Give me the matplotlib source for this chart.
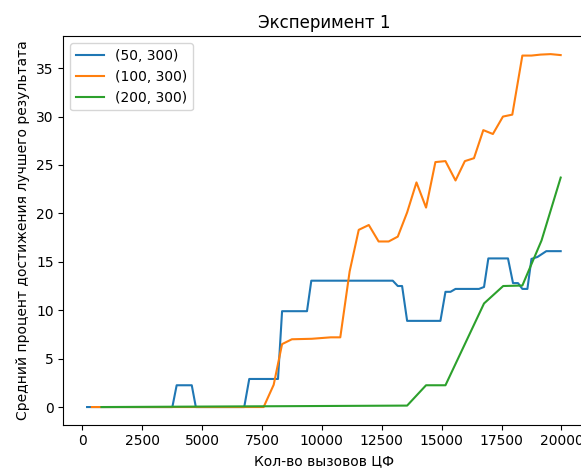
import matplotlib
matplotlib.use("Agg")
import matplotlib.pyplot as plt

# (50, 300)
x_50 = [200, 3760, 3940, 4570, 4740, 6760, 6970, 8170, 8340, 9380, 9560, 12960,
        13170, 13350, 13560, 14950, 15160, 15370, 15580, 16560, 16770, 16950,
        17770, 17980, 18190, 18370, 18580, 18750, 19000, 19370, 19970]
y_50 = [0, 0, 2.25, 2.25, 0, 0, 2.9, 2.9, 9.9, 9.9, 13.05, 13.05,
        12.5, 12.5, 8.9, 8.9, 11.9, 11.9, 12.2, 12.2, 12.4, 15.35,
        15.35, 12.8, 12.8, 12.2, 12.2, 15.3, 15.5, 16.1, 16.1]

# (100, 300)
x_100 = [400, 7570, 7990, 8340, 8750, 9580, 10370, 10770, 11160, 11540, 11960,
         12370, 12790, 13170, 13560, 13950, 14350, 14740, 15160, 15580, 15970,
         16350, 16740, 17140, 17560, 17950, 18370, 18750, 19130, 19550, 19970]
y_100 = [0, 0, 2.3, 6.5, 7.0, 7.05, 7.2, 7.2, 14.0, 18.3, 18.8,
         17.1, 17.1, 17.6, 20.1, 23.2, 20.6, 25.3, 25.4, 23.4, 25.4,
         25.7, 28.6, 28.2, 30.0, 30.2, 36.3, 36.3, 36.4, 36.45, 36.35]

# (200, 300)
x_200 = [800, 13560, 14350, 15160, 16770, 17570, 18370, 19170, 19970]
y_200 = [0, 0.15, 2.25, 2.25, 10.7, 12.5, 12.55, 17.2, 23.7]

fig = plt.figure(figsize=(5.81, 4.70), dpi=100)
ax = fig.add_axes([0.1091, 0.0964, 0.8967, 0.826])

ax.plot(x_50, y_50, label="(50, 300)")
ax.plot(x_100, y_100, label="(100, 300)")
ax.plot(x_200, y_200, label="(200, 300)")

ax.set_title("Эксперимент 1")
ax.set_xlabel("Кол-во вызовов ЦФ")
ax.set_ylabel("Средний процент достижения лучшего результата")
ax.legend(loc="upper left")

fig.savefig("out.png", dpi=100)
